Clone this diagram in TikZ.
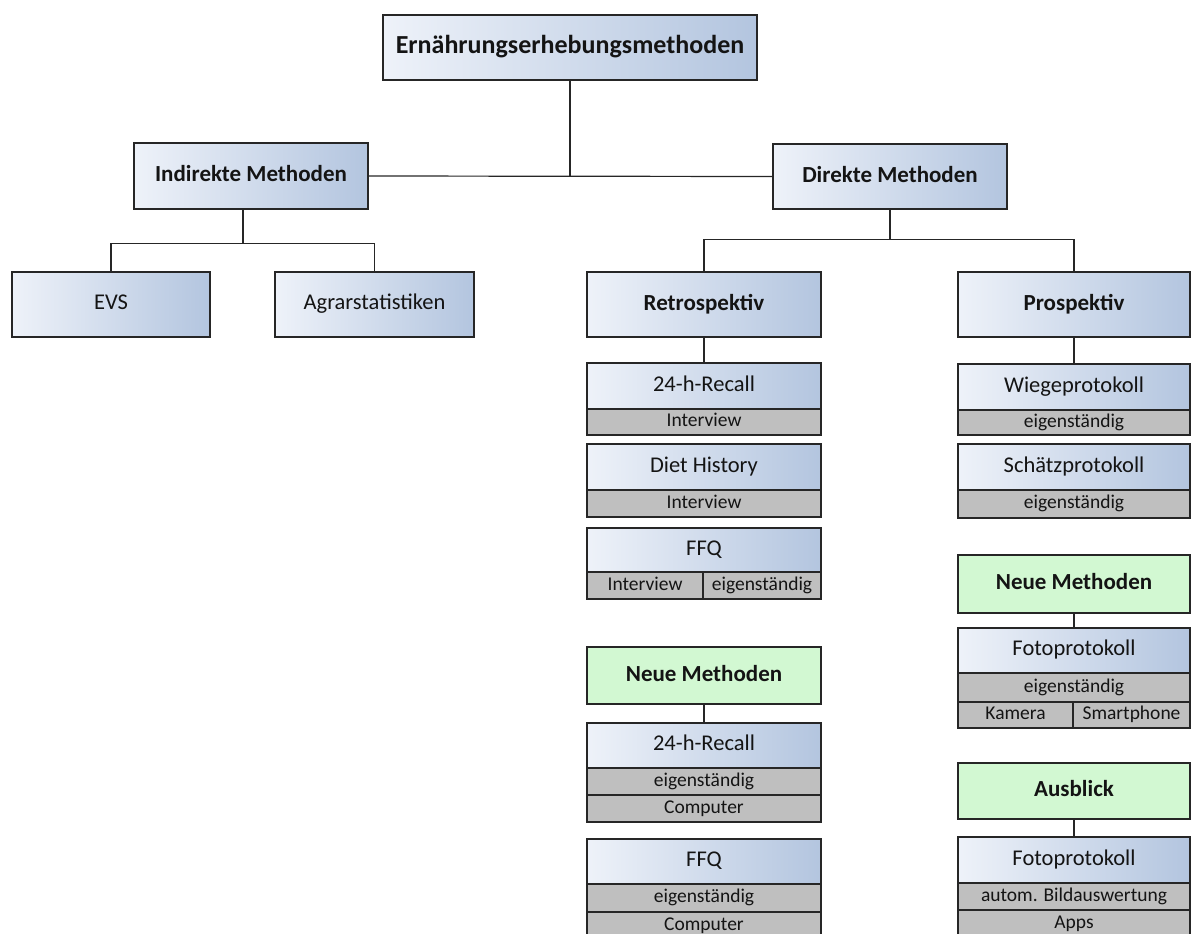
\documentclass[tikz,border=0pt]{standalone}
\usepackage{fontspec}
\setmainfont{Carlito}
\definecolor{lc}{HTML}{262626}
\definecolor{tc}{HTML}{141414}
\definecolor{bla}{HTML}{EEF2F9}
\definecolor{blb}{HTML}{B3C5DF}
\definecolor{gry}{HTML}{BFBFBF}
\definecolor{grn}{HTML}{D2F8D2}
\tikzset{
  base/.style={draw=lc, line width=1.2pt, inner sep=0pt, text=tc},
  bx/.style={base, left color=bla, right color=blb, font=\fontsize{22.5}{26}\selectfont, text height=15.3pt, text depth=4.5pt},
  hd/.style={base, left color=bla, right color=blb, font=\bfseries\fontsize{23}{27}\selectfont, text height=15.6pt, text depth=4.6pt},
  ttl/.style={base, left color=bla, right color=blb, font=\bfseries\fontsize{26}{30}\selectfont, text height=17.7pt, text depth=5.2pt},
  gr/.style={base, fill=gry, font=\fontsize{19.5}{22}\selectfont, text height=13.3pt, text depth=3.9pt},
  gn/.style={base, fill=grn, font=\bfseries\fontsize{23}{27}\selectfont, text height=15.6pt, text depth=4.6pt},
  conn/.style={draw=lc, line width=1.2pt}
}
\newcommand\cell[7]{\node[#1, minimum width={#5pt-#3pt}, minimum height={#6pt-#4pt}] (#2) at ({(#3+#5)/2},{(#4+#6)/2}) {#7};}
\begin{document}
\begin{tikzpicture}[x=1pt,y=-1pt]
\useasboundingbox (0,0) rectangle (1191,934);
% level 0-1
\cell{ttl}{top}{383}{15}{757}{80}{Ernährungserhebungsmethoden}
\cell{hd}{ind}{134}{143}{368}{209}{Indirekte Methoden}
\cell{hd}{dir}{773}{144}{1007}{209}{Direkte Methoden}
% indirect children
\cell{bx}{evs}{12}{272}{210}{337}{EVS}
\cell{bx}{agr}{275}{272}{474}{337}{Agrarstatistiken}
% direct children
\cell{hd}{retro}{587}{272}{821}{337}{Retrospektiv}
\cell{hd}{pro}{958}{272}{1190}{337}{Prospektiv}
% retrospective column
\cell{bx}{recA}{587}{363}{821}{409}{24-h-Recall}
\cell{gr}{recAi}{587}{409}{821}{435}{Interview}
\cell{bx}{diet}{587}{444}{821}{490}{Diet History}
\cell{gr}{dieti}{587}{490}{821}{517}{Interview}
\cell{bx}{ffqA}{587}{528}{821}{572}{FFQ}
\cell{gr}{ffqAi}{587}{572}{703}{599}{Interview}
\cell{gr}{ffqAe}{703}{572}{821}{599}{eigenständig}
\cell{gn}{neuA}{587}{647}{821}{704}{Neue Methoden}
\cell{bx}{recB}{587}{723}{821}{768}{24-h-Recall}
\cell{gr}{recBe}{587}{768}{821}{795}{eigenständig}
\cell{gr}{recBc}{587}{795}{821}{822}{Computer}
\cell{bx}{ffqB}{587}{839}{821}{884}{FFQ}
\cell{gr}{ffqBe}{587}{884}{821}{912}{eigenständig}
\cell{gr}{ffqBc}{587}{912}{821}{939}{Computer}
% prospective column
\cell{bx}{wie}{958}{364}{1190}{410}{Wiegeprotokoll}
\cell{gr}{wiee}{958}{410}{1190}{435}{eigenständig}
\cell{bx}{sch}{958}{444}{1190}{490}{Schätzprotokoll}
\cell{gr}{sche}{958}{490}{1190}{518}{eigenständig}
\cell{gn}{neuB}{958}{555}{1190}{613}{Neue Methoden}
\cell{bx}{fotA}{958}{628}{1190}{673}{Fotoprotokoll}
\cell{gr}{fotAe}{958}{673}{1190}{702}{eigenständig}
\cell{gr}{fotAk}{958}{702}{1073}{728}{Kamera}
\cell{gr}{fotAs}{1073}{702}{1190}{728}{Smartphone}
\cell{gn}{aus}{958}{763}{1190}{819}{Ausblick}
\cell{bx}{fotB}{958}{837}{1190}{883}{Fotoprotokoll}
\cell{gr}{fotBa}{958}{883}{1190}{910}{autom. Bildauswertung}
\cell{gr}{fotBp}{958}{910}{1190}{937}{Apps}
% connectors
\draw[conn] (ind.east) -- (dir.west);
\draw[conn] (top.south) -- (top.south |- ind.east);
\draw[conn] ([xshift=-8pt]ind.south) -- ++(0,34) coordinate (jind);
\draw[conn] (evs.north) |- (jind) -| (agr.north);
\draw[conn] (dir.south) -- ++(0,30) coordinate (jdir);
\draw[conn] (retro.north) |- (jdir) -| (pro.north);
\draw[conn] (retro.south) -- (recA.north);
\draw[conn] (pro.south) -- (wie.north);
\draw[conn] (neuA.south) -- (recB.north);
\draw[conn] (neuB.south) -- (fotA.north);
\draw[conn] (aus.south) -- (fotB.north);
\end{tikzpicture}
\end{document}
